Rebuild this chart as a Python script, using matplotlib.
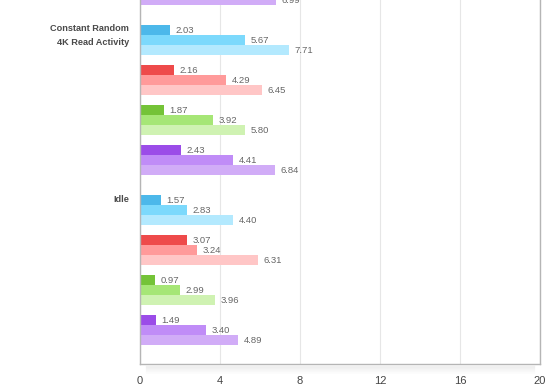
import matplotlib
matplotlib.use("Agg")
import matplotlib.pyplot as plt
import numpy as np

plt.rcParams["font.family"] = ["Liberation Sans", "DejaVu Sans"]

# ---- data ----
categories = ["Constant Random\n4K Read Activity", "Idle"]
# bar lengths (dark, mid, light shade per colour family)
blue_len   = [[1.50, 5.25, 7.45], [1.05, 2.35, 4.65]]
red_len    = [[1.70, 4.30, 6.10], [2.35, 2.85, 5.90]]
green_len  = [[1.20, 3.65, 5.25], [0.75, 2.00, 3.75]]
purple_len = [[2.05, 4.65, 6.75], [0.80, 3.30, 4.90]]
# value labels printed next to the bars
blue_lbl   = [["2.03", "5.67", "7.71"], ["1.57", "2.83", "4.40"]]
red_lbl    = [["2.16", "4.29", "6.45"], ["3.07", "3.24", "6.31"]]
green_lbl  = [["1.87", "3.92", "5.80"], ["0.97", "2.99", "3.96"]]
purple_lbl = [["2.43", "4.41", "6.84"], ["1.49", "3.40", "4.89"]]
# last bar of the preceding (cut-off) group
prev_last_len = 6.80
prev_last_lbl = "6.99"
xticks = [0, 4, 8, 12, 16, 20]

# ---- styles ----
families = [(blue_len, blue_lbl), (red_len, red_lbl),
            (green_len, green_lbl), (purple_len, purple_lbl)]
colors = [
    ["#4CB8EA", "#7CD9FC", "#B3E9FE"],
    ["#EE4A4A", "#FF9A9A", "#FFC6C6"],
    ["#74C337", "#A6E676", "#CFF2B2"],
    ["#9B4CE8", "#C08CF7", "#D1ACF7"],
]

W, H = 560, 390
fig = plt.figure(figsize=(W / 100, H / 100), dpi=100)
ax_left, ax_right, ax_bottom = 140, 540, 364
ax = fig.add_axes([ax_left / W, 1 - ax_bottom / H, (ax_right - ax_left) / W, ax_bottom / H])

first_top = 2.5
group_pitch = 17
sub_pitch = 4

def draw_bar(y, v, lbl, c):
    ax.barh(y, v, height=1.0, color=c, edgecolor="none", zorder=2)
    ax.text(v + 0.27, y, lbl, va="center", ha="left", fontsize=6.8,
            color="#666666", clip_on=True, zorder=3)

# previous group's last bar (mostly off-screen)
y_prev = first_top - group_pitch + 3 * sub_pitch + 2 + 0.5
draw_bar(y_prev, prev_last_len, prev_last_lbl, colors[3][2])

for g, cat in enumerate(categories):
    top = first_top + g * group_pitch
    for j, (lens, lbls) in enumerate(families):
        for i in range(3):
            y = top + j * sub_pitch + i + 0.5
            draw_bar(y, lens[g][i], lbls[g][i], colors[j][i])
    nlines = cat.count("\n") + 1
    yc = top + 0.4 + (nlines - 1) * 0.65
    ax.text(-0.55, yc, cat, ha="right", va="center", fontsize=6.6,
            fontweight="bold", color="#4A4A4A", linespacing=1.75,
            transform=ax.transData, clip_on=False)

ax.set_xlim(0, 20)
ax.set_ylim(ax_bottom / 10, 0)
ax.set_xticks(xticks)
ax.set_xticklabels([str(t) for t in xticks])
ax.set_yticks([])
ax.tick_params(axis="x", length=0, pad=9, labelsize=8.0, labelcolor="#444444")
ax.grid(axis="x", color="#E6E6E6", linewidth=0.8, zorder=0)
ax.set_axisbelow(True)
for s in ["left", "right", "bottom"]:
    ax.spines[s].set_color("#B5B5B5")
    ax.spines[s].set_linewidth(1.0)
ax.spines["top"].set_visible(False)

# soft shadow beneath the bottom axis
for k in range(8):
    a = 0.05 * (1 - k / 8)
    fig.add_artist(plt.Line2D([ax_left / W + 0.01, ax_right / W - 0.01],
                              [1 - (ax_bottom + 1.5 + k) / H] * 2,
                              color="black", alpha=a, linewidth=1.0,
                              transform=fig.transFigure))

fig.savefig("out.png", dpi=100)
